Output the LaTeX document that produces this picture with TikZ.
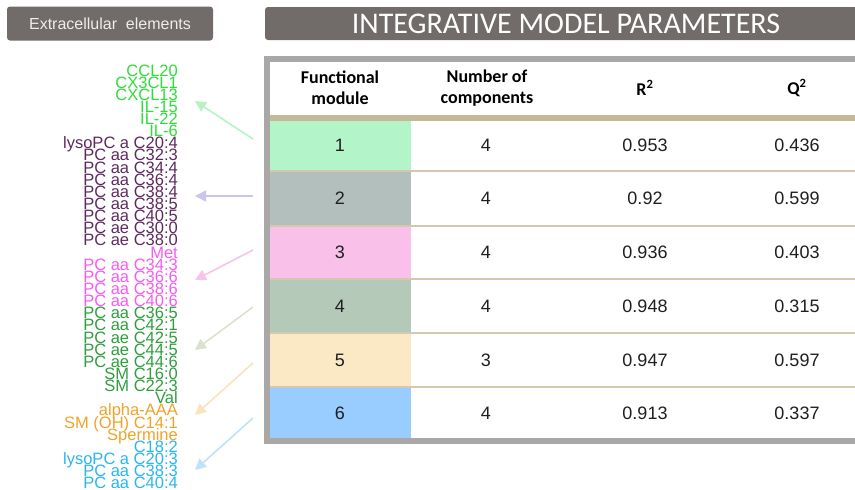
\documentclass[tikz,border=0pt]{standalone}
\usepackage{fontspec}
\setmainfont{Liberation Sans}
\newfontfamily\calib{Carlito}
\usetikzlibrary{arrows.meta}
\definecolor{boxgray}{HTML}{716C6A}
\definecolor{boxtext}{HTML}{EDEDED}
\definecolor{framegray}{HTML}{AAA7A7}
\definecolor{tanline}{HTML}{C6B99A}
\definecolor{sepline}{HTML}{D4C8AD}
\definecolor{rowA}{HTML}{B3F5C9}
\definecolor{rowB}{HTML}{B3BFBD}
\definecolor{rowC}{HTML}{F9C0E9}
\definecolor{rowD}{HTML}{B5C9B8}
\definecolor{rowE}{HTML}{FBE8C4}
\definecolor{rowF}{HTML}{99CCFF}
\definecolor{tA}{HTML}{30DC3C}
\definecolor{tB}{HTML}{5E2A5E}
\definecolor{tC}{HTML}{F45CF0}
\definecolor{tD}{HTML}{2E9E3E}
\definecolor{tE}{HTML}{F0A22A}
\definecolor{tF}{HTML}{29B6F0}
\definecolor{aA}{HTML}{B6F2C6}
\definecolor{aB}{HTML}{CDC4F2}
\definecolor{aC}{HTML}{F7C3E9}
\definecolor{aD}{HTML}{D9E2CD}
\definecolor{aE}{HTML}{F9E3BD}
\definecolor{aF}{HTML}{BFE2F9}
\begin{document}
\begin{tikzpicture}[x=1pt,y=-1pt,
  headbox/.style={fill=boxgray, rounded corners=3pt, text=boxtext, inner sep=0pt},
  hdr/.style={font=\calib\bfseries\fontsize{18}{21}\selectfont, align=center, text=black, inner sep=0pt},
  val/.style={font=\fontsize{18}{21}\selectfont, text=black!88, inner sep=0pt},
  item/.style={font=\fontsize{16.5}{12}\selectfont, anchor=base east, inner sep=0pt},
  sep/.style={draw=sepline, line width=1.8pt},
  link/.style={line width=1.6pt, -{Triangle[length=11pt,width=11pt]}}
]
\useasboundingbox (0,0) rectangle (855,490);
% header boxes
\node[headbox, minimum width=206pt, minimum height=34pt, font=\fontsize{16}{19}\selectfont] (ext) at (110,23.5) {Extracellular\ \ elements};
\fill[boxgray, rounded corners=3pt] (265,7) rectangle (880,40);
\node[text=white, font=\calib\fontsize{30}{34}\selectfont, inner sep=0pt] (title) at (566,23.5) {INTEGRATIVE MODEL PARAMETERS};
% table frame
\fill[framegray] (264,56) rectangle (880,444);
\fill[white] (270,62) rectangle (880,438);
\fill[tanline] (270,115) rectangle (880,120.5);
% coloured cells
\fill[rowA] (270,120.5) rectangle (411,171);
\fill[rowB] (270,171) rectangle (411,226);
\fill[rowC] (270,226) rectangle (411,279);
\fill[rowD] (270,279) rectangle (411,333);
\fill[rowE] (270,333) rectangle (411,387);
\fill[rowF] (270,387) rectangle (411,438);
\foreach \yy in {171,226,279,333,387} \draw[sep] (270,\yy) -- (880,\yy);
% header texts
\node[hdr] (h1) at (340,88) {Functional\\module};
\node[hdr] (h2) at (487,88) {Number of\\components};
\node[hdr] (h3) at (645,88) {R\textsuperscript{2}};
\node[hdr] (h4) at (797,88) {Q\textsuperscript{2}};
% rows
\foreach \n/\c/\r/\q/\yy in {1/4/0.953/0.436/145.5, 2/4/0.92/0.599/198.5, 3/4/0.936/0.403/252.5, 4/4/0.948/0.315/306, 5/3/0.947/0.597/360, 6/4/0.913/0.337/413}{
  \node[val] (m\n) at (340,\yy) {\n};
  \node[val] (n\n) at (486,\yy) {\c};
  \node[val] (r\n) at (645,\yy) {\r};
  \node[val] (q\n) at (797,\yy) {\q};
}
% element list
\foreach \t/\c [count=\i from 0] in {CCL20/tA, CX3CL1/tA, CXCL13/tA, IL-15/tA, IL-22/tA, IL-6/tA,
  lysoPC a C20:4/tB, PC aa C32:3/tB, PC aa C34:4/tB, PC aa C36:4/tB, PC aa C38:4/tB, PC aa C38:5/tB, PC aa C40:5/tB, PC ae C30:0/tB, PC ae C38:0/tB,
  Met/tC, PC aa C34:3/tC, PC aa C36:6/tC, PC aa C38:6/tC, PC aa C40:6/tC,
  PC aa C36:5/tD, PC aa C42:1/tD, PC ae C42:5/tD, PC ae C44:5/tD, PC ae C44:6/tD, SM C16:0/tD, SM C22:3/tD, Val/tD,
  alpha-AAA/tE, SM (OH) C14:1/tE, Spermine/tE,
  C18:2/tF, lysoPC a C20:3/tF, PC aa C38:3/tF, PC aa C40:4/tF}{
  \node[item, text=\c] (l\i) at (178,{76+12.14*\i}) {\t};
}
% arrows
\coordinate (s1) at (253,139); \coordinate (e1) at (195,101);
\coordinate (s2) at (253,196); \coordinate (e2) at (195,196);
\coordinate (s3) at (253,250); \coordinate (e3) at (195,280);
\coordinate (s4) at (253,307); \coordinate (e4) at (195,350);
\coordinate (s5) at (253,363); \coordinate (e5) at (195,415);
\coordinate (s6) at (253,418); \coordinate (e6) at (195,470);
\draw[link, aA] (s1) -- (e1);
\draw[link, aB] (s2) -- (e2);
\draw[link, aC] (s3) -- (e3);
\draw[link, aD] (s4) -- (e4);
\draw[link, aE] (s5) -- (e5);
\draw[link, aF] (s6) -- (e6);
\end{tikzpicture}
\end{document}
